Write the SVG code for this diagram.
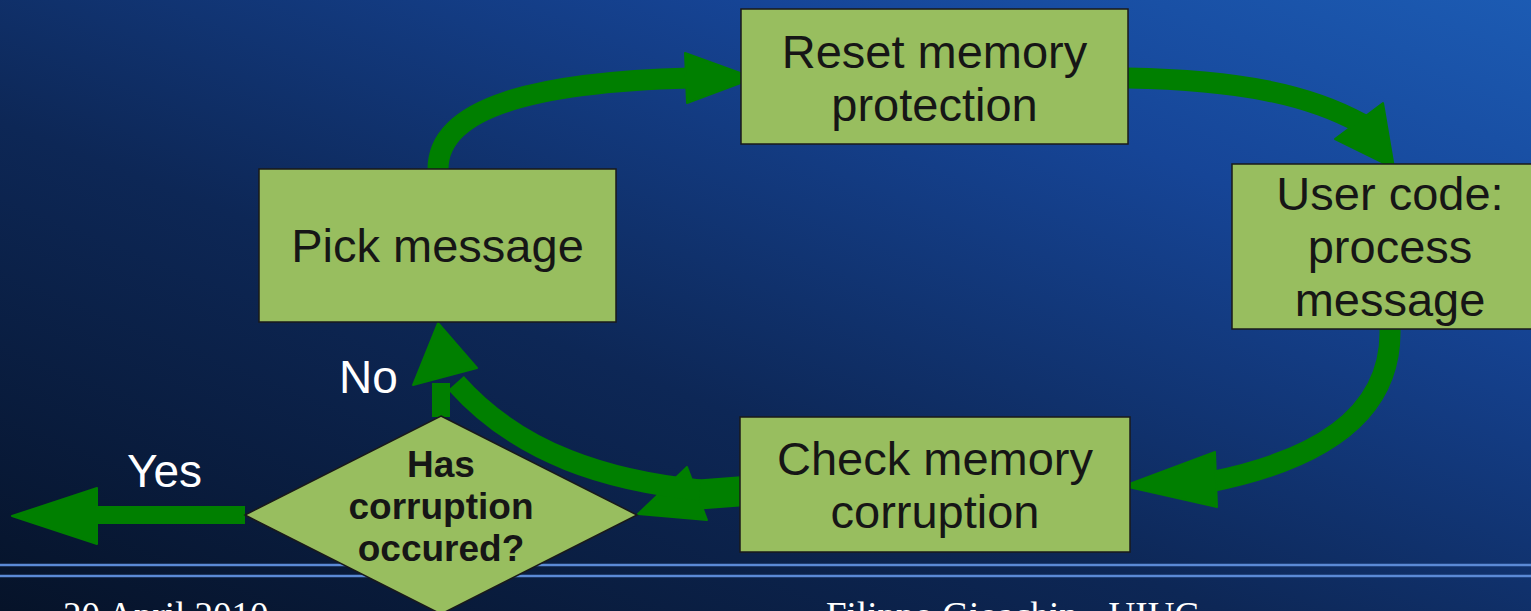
<svg xmlns="http://www.w3.org/2000/svg" width="1531" height="611" viewBox="0 0 1531 611">
  <defs>
    <linearGradient id="bg" x1="0" y1="1" x2="1" y2="0">
      <stop offset="0" stop-color="#061329"/>
      <stop offset="0.4" stop-color="#0d2756"/>
      <stop offset="0.75" stop-color="#164597"/>
      <stop offset="1" stop-color="#1c5bb3"/>
    </linearGradient>
    <style>
      .box { fill: #98be5f; stroke: #1a1a1a; stroke-width: 1.5; }
      .lbl { font-family: "Liberation Sans", Arial, sans-serif; font-size: 47px; fill: #161616; text-anchor: middle; }
      .dlbl { font-family: "Liberation Sans", Arial, sans-serif; font-size: 37px; font-weight: bold; fill: #161616; text-anchor: middle; }
      .wlbl { font-family: "Liberation Sans", Arial, sans-serif; font-size: 46px; fill: #ffffff; }
      .foot { font-family: "Liberation Serif", "Times New Roman", serif; font-size: 37px; fill: #ffffff; }
      .flow { fill: none; stroke: #007f00; stroke-width: 21; }
      .head { fill: #007f00; stroke: #007f00; stroke-width: 2; stroke-linejoin: round; }
      .rule { stroke: #5b8ad6; stroke-width: 2.5; }
    </style>
  </defs>

  <rect x="0" y="0" width="1531" height="611" fill="url(#bg)"/>
  <line class="rule" x1="0" y1="565" x2="1531" y2="565"/>
  <line class="rule" x1="0" y1="576" x2="1531" y2="576"/>

  <text class="foot" x="63" y="628">20 April 2010</text>
  <text class="foot" x="826" y="628">Filippo Gioachin - UIUC</text>

  <g id="connectors">
    <path class="flow" d="M438,169 C438,106 540,82 690,78"/>
    <polygon class="head" points="685,53 754,78 687,103"/>

    <path class="flow" d="M1128,78 C1240,80 1310,95 1362,124"/>
    <polygon class="head" points="1335,139 1383,103 1394,168"/>

    <path class="flow" d="M1390,329 C1392,420 1310,462 1210,482"/>
    <polygon class="head" points="1215,452 1124,486 1217,507"/>

    <path class="flow" style="stroke-width:30" d="M745,491 L680,496"/>
    <polygon class="head" points="687,467 638,514 707,520"/>

    <path class="flow" d="M700,490 C610,481 520,455 456,383"/>
    <rect x="432" y="383" width="18" height="34" fill="#007f00"/>
    <polygon class="head" points="413,385 438,323 477,368"/>

    <rect x="97" y="506" width="148" height="18" fill="#007f00"/>
    <polygon class="head" points="97,488 12,516 97,544"/>
  </g>

  <text class="wlbl" x="339" y="393">No</text>
  <text class="wlbl" x="127" y="487">Yes</text>

  <g id="reset">
    <rect class="box" x="741" y="9" width="387" height="135"/>
    <text class="lbl" x="934.5" y="68">Reset memory</text>
    <text class="lbl" x="934.5" y="121">protection</text>
  </g>

  <g id="pick">
    <rect class="box" x="259" y="169" width="357" height="153"/>
    <text class="lbl" x="437.5" y="262">Pick message</text>
  </g>

  <g id="usercode">
    <rect class="box" x="1232" y="164" width="305" height="165"/>
    <text class="lbl" x="1390" y="210">User code:</text>
    <text class="lbl" x="1390" y="263">process</text>
    <text class="lbl" x="1390" y="316">message</text>
  </g>

  <g id="check">
    <rect class="box" x="740" y="417" width="390" height="135"/>
    <text class="lbl" x="935" y="475">Check memory</text>
    <text class="lbl" x="935" y="528">corruption</text>
  </g>

  <g id="decision">
    <polygon class="box" points="441,416 637,515 441,614 245,515"/>
    <text class="dlbl" x="441" y="477">Has</text>
    <text class="dlbl" x="441" y="519">corruption</text>
    <text class="dlbl" x="441" y="561">occured?</text>
  </g>
</svg>
